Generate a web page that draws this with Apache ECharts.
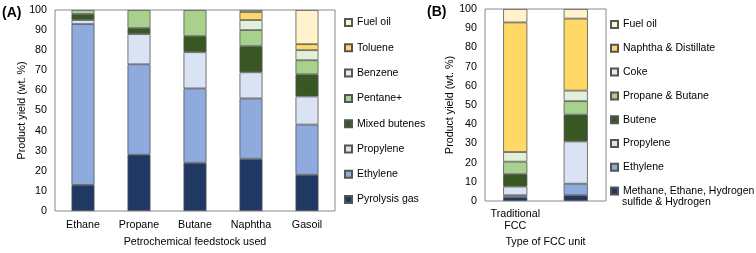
<!DOCTYPE html>
<html><head><meta charset="utf-8">
<script src="https://cdn.jsdelivr.net/npm/echarts@6/dist/echarts.min.js"></script>
<style>html,body{margin:0;padding:0;background:#fff}#c{width:756px;height:253px}</style>
</head><body><div id="c"></div>
<script>
// ---- Panel A data ----
const catsA = ['Ethane','Propane','Butane','Naphtha','Gasoil'];
const pyrolysisGas = [13,28,24,26,18];
const ethyleneA = [80,45,37,30,25];
const propyleneA = [2,15,18,13,14];
const mixedButenes = [3,3,8,13,11];
const pentanePlus = [2,9,13,8,7];
const benzene = [0,0,0,5,5];
const toluene = [0,0,0,4,3];
const fuelOilA = [0,0,0,1,17];
// ---- Panel B data ----
const catsB = ['Traditional\nFCC','Petro\nFCC'];
const methaneEtc = [2,3];
const ethyleneB = [1,6];
const propyleneB = [4.5,22];
const butene = [6.5,14];
const propaneButane = [6.5,7];
const coke = [5,5.5];
const naphthaDistillate = [67.5,37.5];
const fuelOilB = [7,5];
const yTicks = [0,10,20,30,40,50,60,70,80,90,100];

const C = {
  navy:'#203864', blue:'#8faadc', pale:'#dae3f3', dgreen:'#385723',
  lgreen:'#a9d18e', pgreen:'#e2f0d9', yellow:'#ffd966', cream:'#fff2cc'
};
const FONT = 'Liberation Sans, Arial, sans-serif';
const nz = a => a.map(v => v === 0 ? null : v);

function ser(name, data, color, idx, stack){
  return {name, type:'bar', stack, xAxisIndex:idx, yAxisIndex:idx, data:nz(data),
    barWidth:'41%', itemStyle:{color, borderColor:'#555', borderWidth:0.8}, emphasis:{disabled:true}};
}
const MET = 'Methane, Ethane, Hydrogen sulfide & Hydrogen';
const seriesA = [
  ser('Pyrolysis gas', pyrolysisGas, C.navy, 0, 'a'),
  ser('Ethylene', ethyleneA, C.blue, 0, 'a'),
  ser('Propylene', propyleneA, C.pale, 0, 'a'),
  ser('Mixed butenes', mixedButenes, C.dgreen, 0, 'a'),
  ser('Pentane+', pentanePlus, C.lgreen, 0, 'a'),
  ser('Benzene', benzene, C.pgreen, 0, 'a'),
  ser('Toluene', toluene, C.yellow, 0, 'a'),
  ser('Fuel oil', fuelOilA, C.cream, 0, 'a')
];
const seriesB = [
  ser(MET, methaneEtc, C.navy, 1, 'b'),
  ser('Ethylene', ethyleneB, C.blue, 1, 'b'),
  ser('Propylene', propyleneB, C.pale, 1, 'b'),
  ser('Butene', butene, C.dgreen, 1, 'b'),
  ser('Propane & Butane', propaneButane, C.lgreen, 1, 'b'),
  ser('Coke', coke, C.pgreen, 1, 'b'),
  ser('Naphtha & Distillate', naphthaDistillate, C.yellow, 1, 'b'),
  ser('Fuel oil', fuelOilB, C.cream, 1, 'b')
];
seriesB.forEach(s => s.barWidth = '40%');

const txt = {color:'#000', fontFamily:FONT, fontSize:10.7};
const ltxt = {color:'#000', fontFamily:FONT, fontSize:10.5};
function yAx(idx, gap){
  return {gridIndex:idx, type:'value', min:0, max:100, interval:10,
    name:'Product yield (wt. %)', nameLocation:'middle', nameGap:gap, nameRotate:90,
    nameMoveOverlap:false,
    nameTextStyle:txt, axisLabel:{...txt, margin:8},
    axisLine:{show:false}, axisTick:{show:false}, splitLine:{show:false}};
}
function xAx(idx, data, gap, margin, name){
  return {gridIndex:idx, type:'category', data, name, nameLocation:'middle', nameGap:gap,
    nameMoveOverlap:false,
    nameTextStyle:txt, axisLabel:{...txt, margin, lineHeight:12},
    axisLine:{show:false}, axisTick:{show:false}};
}
const legendA = ['Fuel oil','Toluene','Benzene','Pentane+','Mixed butenes','Propylene','Ethylene','Pyrolysis gas'];
const legendB = ['Fuel oil','Naphtha & Distillate','Coke','Propane & Butane','Butene','Propylene','Ethylene',MET];

const chart = echarts.init(document.getElementById('c'), null, {renderer:'canvas'});
chart.setOption({
  animation:false,
  grid:[
    {left:55, top:10, width:280, height:203, show:true, borderColor:'#8a8a8a', borderWidth:1, backgroundColor:'transparent'},
    {left:485, top:9, width:121, height:195, show:true, borderColor:'#8a8a8a', borderWidth:1, backgroundColor:'transparent'}
  ],
  xAxis:[ xAx(0, catsA, 26, 8, 'Petrochemical feedstock used'), xAx(1, catsB, 36, 7, 'Type of FCC unit') ],
  yAxis:[ yAx(0, 27), yAx(1, 29) ],
  legend:[
    {data:legendA, orient:'vertical', left:344, top:17, padding:0, itemGap:14.3, itemWidth:7, itemHeight:7,
     icon:'rect', textStyle:{...ltxt}, selectedMode:false},
    {data:legendB, orient:'vertical', left:610, top:19, padding:0, itemGap:12.8, itemWidth:7, itemHeight:7,
     icon:'rect', textStyle:{...ltxt}, selectedMode:false,
     formatter: n => n === MET ? 'Methane, Ethane, Hydrogen' : n}
  ],
  graphic:[
    {type:'text', left:2, top:6, style:{text:'(A)', font:'bold 14px '+FONT, fill:'#000'}},
    {type:'text', left:427, top:5, style:{text:'(B)', font:'bold 14px '+FONT, fill:'#000'}},
    {type:'text', left:622, top:197, style:{text:'sulfide & Hydrogen', font:'10.5px '+FONT, fill:'#000'}}
  ],
  series:[...seriesA, ...seriesB]
});
</script></body></html>
